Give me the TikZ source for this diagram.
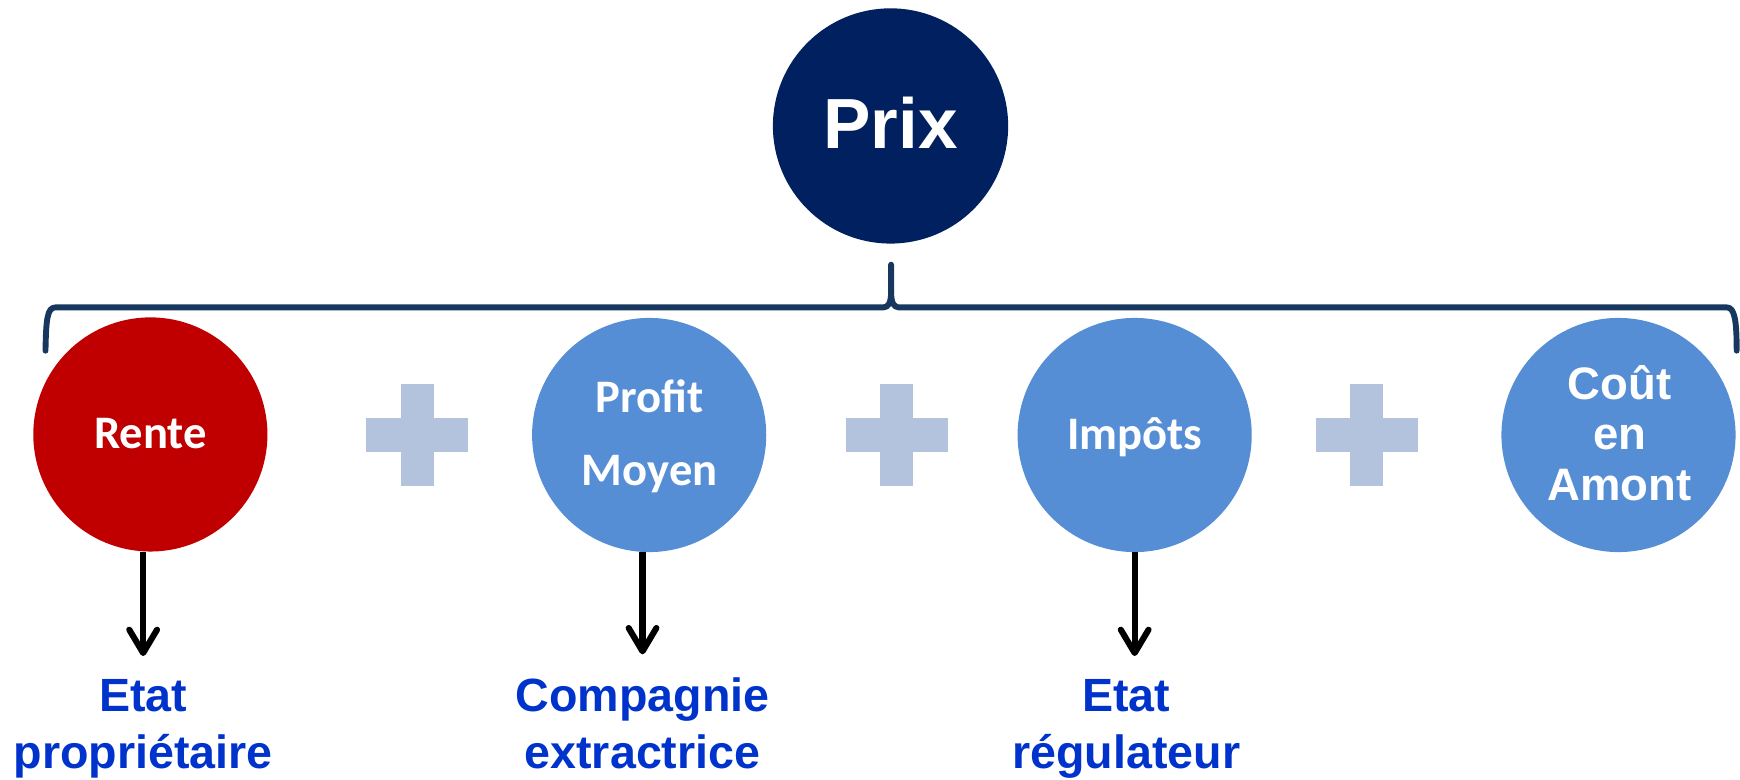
\documentclass[tikz,border=0pt]{standalone}
\usepackage{fontspec}
\setmainfont{Liberation Sans}
\newfontfamily\calib{Carlito}
\usetikzlibrary{arrows.meta}
\definecolor{prixblue}{HTML}{002060}
\definecolor{rentered}{HTML}{C00000}
\definecolor{midblue}{HTML}{558ED5}
\definecolor{plusgray}{HTML}{B3C3DD}
\definecolor{bracecol}{HTML}{17375E}
\definecolor{labblue}{HTML}{0033CC}
\tikzset{
  bubble/.style={circle, minimum size=211pt, inner sep=0pt, draw=none},
  ctext/.style={text=white, font=\calib\bfseries\fontsize{42}{50}\selectfont, anchor=base, inner sep=0pt},
  atext/.style={text=white, font=\bfseries\fontsize{41}{45}\selectfont, anchor=base, inner sep=0pt},
  labtext/.style={text=labblue, font=\bfseries\fontsize{42}{50}\selectfont, anchor=base, inner sep=0pt},
  bracestyle/.style={draw=bracecol, line width=5.3pt, line cap=round, line join=round},
  arr/.style={draw=black, line width=5.5pt, -{Straight Barb[length=21pt,width=25pt,round]}},
  pluspic/.pic={
    \fill[plusgray] (-15,-46) rectangle (15,46);
    \fill[plusgray] (-46,-15) rectangle (46,15);
  }
}
\begin{document}
\begin{tikzpicture}[x=1pt,y=-1pt]
\useasboundingbox (0,0) rectangle (1568,702);
% circles
\node[bubble, fill=prixblue, minimum size=212pt] (prix) at (802.5,113.5) {};
\node[text=white, font=\bfseries\fontsize{64}{70}\selectfont, anchor=base, inner sep=0pt] (prixt) at (802.5,133.4) {Prix};
\node[bubble, fill=rentered] (rente) at (135.5,391.5) {};
\node[bubble, fill=midblue] (profit) at (585,392) {};
\node[bubble, fill=midblue] (impots) at (1022.5,392) {};
\node[bubble, fill=midblue] (cout) at (1458.5,392) {};
% circle texts
\node[ctext] (rentet) at (135.5,404.6) {Rente};
\node[ctext] (profita) at (585.5,371.5) {Profit};
\node[ctext] (profitb) at (585.5,437.5) {Moyen};
\node[ctext] (impotst) at (1022.5,405) {Impôts};
\node[atext] (couta) at (1459.5,360) {Coût};
\node[atext] (coutb) at (1459.5,405.5) {en};
\node[atext] (coutc) at (1459.5,450.6) {Amont};
% plus signs
\pic at (376,392) {pluspic};
\pic at (808,392) {pluspic};
\pic at (1231.5,392) {pluspic};
% brace
\draw[bracestyle] (41,316) .. controls (41.5,288) and (42.5,277) .. (50,277) -- (796,277)
  .. controls (800.5,277) and (803,273) .. (803,263) -- (803,238.5);
\draw[bracestyle] (803,263) .. controls (803,273) and (805.5,277) .. (810,277) -- (1556,277)
  .. controls (1563,277) and (1565,288) .. (1565,316);
% bottom labels
\node[labtext] (lab1a) at (129,641.3) {Etat};
\node[labtext] (lab1b) at (129,692.5) {propriétaire};
\node[labtext] (lab2a) at (579,641.3) {Compagnie};
\node[labtext] (lab2b) at (579,692.5) {extractrice};
\node[labtext] (lab3a) at (1015,641.3) {Etat};
\node[labtext] (lab3b) at (1015,692.5) {régulateur};
% arrows
\draw[arr] (rente.south -| lab1a) -- ([yshift=21pt]lab1a.north);
\draw[arr] (profit.south -| lab2a) -- ([yshift=21pt]lab2a.north);
\draw[arr] (impots.south) -- ([yshift=21pt]impots.south |- lab3a.north);
\end{tikzpicture}
\end{document}
